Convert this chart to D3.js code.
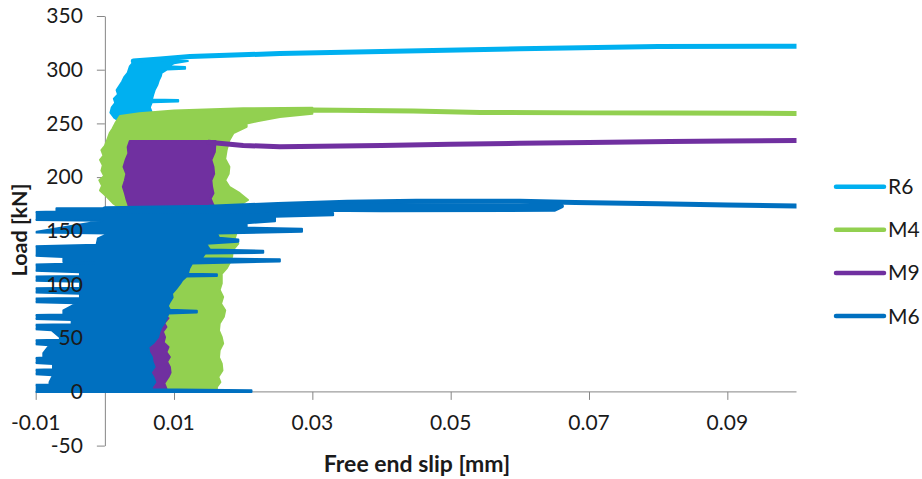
<!DOCTYPE html>
<html>
<head>
<meta charset="utf-8">
<script src="https://cdn.jsdelivr.net/npm/d3@7"></script>
<style>
  body { margin: 0; background: #fff; }
  svg { display: block; }
  text { font-family: Lato, "Open Sans", sans-serif; fill: #1a1a1a; }
</style>
</head>
<body>
<svg id="chart" width="922" height="479"></svg>
<script>
// Axis ticks
const xTicks = [-0.01, 0.01, 0.03, 0.05, 0.07, 0.09];
const yTicks = [-50, 0, 50, 100, 150, 200, 250, 300, 350];

// Series, in drawing order
const seriesNames = ["R6", "M4", "M9", "M6"];
const seriesColors = ["#00B0F0", "#92D050", "#7030A0", "#0070C0"];

// R6: cyclic band (left edge top-down, right edge bottom-up) and final loading branch
const r6LeftLoad  = [309, 306, 303, 297, 293, 289, 285, 281, 277, 273, 269, 265, 260, 255, 251.5];
const r6LeftSlip  = [0.0041, 0.0040, 0.0036, 0.0033, 0.0028, 0.0025, 0.0021, 0.0017, 0.0019, 0.0013, 0.0015, 0.0010, 0.0008, 0.0014, 0.0022];
const r6RightLoad = [251.5, 255, 260, 265, 269.8, 270.3, 271.8, 272.3, 277, 281, 286, 290, 294, 297, 300.3, 300.8, 302.6, 303.1, 306, 308, 309.5];
const r6RightSlip = [0.0030, 0.0065, 0.0068, 0.0065, 0.0068, 0.0106, 0.0106, 0.0068, 0.0070, 0.0072, 0.0076, 0.0078, 0.0081, 0.0082, 0.0090, 0.0116, 0.0116, 0.0090, 0.0100, 0.0120, 0.0080];
const r6TailSlip  = [0.0041, 0.008, 0.0123, 0.0253, 0.04, 0.06, 0.08, 0.1];
const r6TailLoad  = [308, 310, 312.3, 315, 317, 319.5, 321.5, 321.8];

// M4
const m4LeftLoad  = [264.5, 264, 262, 259.5, 257, 250, 245, 241, 234, 229, 225, 220, 216, 211, 206, 201, 197, 192, 187.6, 181.6, 175.6, 170, 160, 147, 140, 100, 50, 1.5];
const m4LeftSlip  = [0.030, 0.020, 0.010, 0.005, 0.0022, 0.0015, 0.0011, 0.0007, 0.0003, 0.0000, -0.0005, -0.0002, -0.0007, -0.0003, -0.0005, -0.0001, -0.0008, -0.0004, -0.0007, 0.0003, 0.0012, 0.0025, 0.002, 0.0007, 0.002, 0.004, 0.006, 0.007];
const m4RightLoad = [1.5, 4.6, 9, 13.9, 20, 26.4, 32, 38.8, 45, 51, 57, 63.6, 70, 76, 82, 88.5, 95, 101, 110, 115, 119.5, 126, 132, 138, 143, 147.5, 160, 174, 178.7, 185, 191, 197, 203, 209.6, 217, 225, 234.3, 241, 246.8, 250, 252, 256, 259];
const m4RightSlip = [0.0162, 0.0162, 0.0167, 0.0164, 0.0170, 0.0169, 0.0165, 0.0166, 0.0171, 0.0169, 0.0165, 0.0166, 0.0172, 0.0174, 0.0168, 0.0171, 0.0166, 0.0169, 0.0169, 0.0176, 0.0180, 0.0184, 0.0185, 0.0193, 0.0188, 0.0190, 0.0190, 0.0195, 0.0207, 0.0195, 0.0180, 0.0174, 0.0179, 0.0180, 0.0174, 0.0176, 0.0180, 0.0186, 0.0205, 0.0205, 0.0220, 0.0253, 0.0300];
const m4TailSlip  = [0.025, 0.030, 0.0446, 0.0543, 0.07, 0.0817, 0.1];
const m4TailLoad  = [262, 262.5, 261.5, 260.2, 259.8, 259.6, 259.3];

// M9
const m9LeftLoad  = [233.5, 228, 222, 216, 209.5, 203, 197, 191, 185, 180, 174, 170, 100, 3];
const m9LeftSlip  = [0.0036, 0.0033, 0.0034, 0.0030, 0.0027, 0.0031, 0.0029, 0.0026, 0.0029, 0.0031, 0.0034, 0.0035, 0.002, 0.004];
const m9RightLoad = [3, 8, 13.9, 18, 23.2, 28, 32.5, 37, 41.8, 46, 51, 56, 60.5, 64, 68.6, 72, 80, 100, 140, 160, 170, 174, 180, 185, 191, 197, 203, 209.5, 216, 223.5, 233.5];
const m9RightSlip = [0.0089, 0.0086, 0.0092, 0.0095, 0.0094, 0.0090, 0.0094, 0.0089, 0.0092, 0.0085, 0.0087, 0.0084, 0.0089, 0.0086, 0.0092, 0.0080, 0.0060, 0.0060, 0.0080, 0.0100, 0.0157, 0.0157, 0.0153, 0.0157, 0.0155, 0.0154, 0.0158, 0.0157, 0.0154, 0.0159, 0.0160];
const m9TailSlip  = [0.0150, 0.0200, 0.0253, 0.040, 0.050, 0.060, 0.070, 0.0817, 0.090, 0.1];
const m9TailLoad  = [232.5, 229.5, 228.2, 229.5, 230.5, 231.5, 232.3, 233.2, 233.6, 234];

// M6
const m6LeftLoad  = [171, 168, 167.5, 160, 159.3, 148.5, 147.5, 143, 137, 135.5, 127, 125.5, 121, 120, 118.5, 113, 111.5, 108, 107.5, 103.5, 102.5, 97, 96.5, 92.5, 91.5, 87.5, 87, 83.5, 82.5, 76, 72, 71.5, 68, 67, 63, 62.5, 58.5, 57.5, 51, 48.5, 48, 44.5, 43.5, 36, 32, 31.5, 27, 26, 21, 20.5, 16.5, 15.5, 9, 7, 6.5, 0];
const m6LeftSlip  = [-0.007, -0.007, -0.0105, -0.0105, -0.0003, -0.0105, 0.0006, -0.0010, -0.0012, -0.0105, -0.0105, -0.006, -0.006, -0.0012, -0.0105, -0.0105, -0.0036, -0.0036, -0.0105, -0.0105, -0.0036, -0.0036, -0.0105, -0.0105, -0.0036, -0.0036, -0.0105, -0.0105, -0.0041, -0.006, -0.006, -0.0105, -0.0105, -0.0048, -0.0048, -0.0105, -0.0105, -0.0077, -0.0065, -0.0065, -0.0105, -0.0105, -0.008, -0.0089, -0.0089, -0.0105, -0.0105, -0.0075, -0.0075, -0.0105, -0.0105, -0.0075, -0.008, -0.008, -0.0105, -0.0105];
const m6RightLoad = [0, 1.5, 2.5, 4.6, 9, 13.9, 18, 23.2, 28, 32.5, 37, 41.8, 46, 51, 56, 60.5, 64, 68.3, 73, 74, 75.5, 76.5, 80, 83.8, 88, 91.6, 96, 101, 104, 107.5, 108, 109.5, 110, 115, 119.5, 121.5, 123.5, 124.5, 128.9, 129.5, 131.5, 132.5, 135, 138, 139.8, 141.8, 143.5, 147.6, 149, 152, 153, 157, 159, 163, 164.5, 166.5, 168, 171];
const m6RightSlip = [0.0212, 0.0212, 0.0068, 0.0068, 0.0073, 0.0070, 0.0066, 0.0072, 0.0069, 0.0068, 0.0064, 0.0063, 0.0071, 0.0077, 0.0079, 0.0082, 0.0086, 0.0089, 0.0092, 0.0133, 0.0133, 0.0094, 0.0091, 0.0094, 0.0098, 0.0097, 0.0103, 0.0109, 0.0112, 0.0118, 0.0162, 0.0162, 0.0120, 0.0122, 0.0126, 0.0253, 0.0253, 0.0140, 0.0145, 0.0229, 0.0229, 0.0152, 0.0149, 0.0147, 0.0193, 0.0193, 0.0165, 0.0162, 0.0285, 0.0285, 0.0205, 0.0205, 0.0246, 0.0246, 0.0330, 0.0330, 0.0200, 0.0040];
const m6TailSlip  = [0.0, 0.015, 0.025, 0.035, 0.045, 0.060, 0.068, 0.080, 0.090, 0.1];
const m6TailLoad  = [170.5, 172, 174.5, 176.5, 177.5, 177.5, 176.3, 175.3, 174, 173];
const m6LoopSlip  = [0.0, 0.020, 0.030, 0.040, 0.065, 0.066, 0.040, 0.030, 0.022, 0.015];
const m6LoopLoad  = [168, 168.5, 170, 169.5, 170, 173, 173.5, 172.5, 171.5, 170.5];

const zip = (a, b) => a.map((v, i) => [v, b[i]]);

const series = [
  { band: zip(r6LeftSlip, r6LeftLoad).concat(zip(r6RightSlip, r6RightLoad)),
    tails: [zip(r6TailSlip, r6TailLoad)] },
  { band: zip(m4LeftSlip, m4LeftLoad).concat(zip(m4RightSlip, m4RightLoad)),
    tails: [zip(m4TailSlip, m4TailLoad)] },
  { band: zip(m9LeftSlip, m9LeftLoad).concat(zip(m9RightSlip, m9RightLoad)),
    tails: [zip(m9TailSlip, m9TailLoad)] },
  { band: zip(m6LeftSlip, m6LeftLoad).concat(zip(m6RightSlip, m6RightLoad)),
    tails: [zip(m6TailSlip, m6TailLoad), zip(m6LoopSlip, m6LoopLoad)] }
];

const svg = d3.select("#chart");
const x = d3.scaleLinear().domain([-0.01, 0.1]).range([35.7, 796.5]);
const y = d3.scaleLinear().domain([-50, 350]).range([445.6, 16]);

const axisColor = "#868686";
const tickFont = 21;

// Plot clip
svg.append("defs").append("clipPath").attr("id", "plot")
  .append("rect")
  .attr("x", x(-0.01)).attr("y", y(350))
  .attr("width", x(0.1) - x(-0.01)).attr("height", y(-50) - y(350));

// X axis along load = 0
const xAxis = svg.append("g")
  .attr("transform", `translate(0,${y(0)})`)
  .call(d3.axisBottom(x).tickValues(xTicks).tickSize(8).tickSizeOuter(0).tickFormat(""));
xAxis.select(".domain").attr("stroke", axisColor).attr("d", `M${x(-0.01)},0H${x(0.1)}`);
xAxis.selectAll(".tick line").attr("stroke", axisColor);

// Y axis along slip = 0
const yAxis = svg.append("g")
  .attr("transform", `translate(${x(0)},0)`)
  .call(d3.axisLeft(y).tickValues(yTicks).tickSize(8).tickSizeOuter(0).tickFormat(""));
yAxis.select(".domain").attr("stroke", axisColor);
yAxis.selectAll(".tick line").attr("stroke", axisColor);

// Data
const line = d3.line().x(d => x(d[0])).y(d => y(d[1]));
const plot = svg.append("g").attr("clip-path", "url(#plot)");

series.forEach((s, i) => {
  const g = plot.append("g");
  g.append("path")
    .attr("d", line(s.band) + "Z")
    .attr("fill", seriesColors[i])
    .attr("stroke", seriesColors[i])
    .attr("stroke-width", 2)
    .attr("stroke-linejoin", "round");
  s.tails.forEach(t => {
    g.append("path")
      .attr("d", line(t))
      .attr("fill", "none")
      .attr("stroke", seriesColors[i])
      .attr("stroke-width", 5)
      .attr("stroke-linejoin", "round")
      .attr("stroke-linecap", "round");
  });
});

// Tick labels, drawn over the data
svg.append("g").selectAll("text").data(xTicks).join("text")
  .attr("x", d => x(d)).attr("y", 430)
  .attr("text-anchor", "middle")
  .style("font-size", tickFont + "px")
  .text(d => String(d));

svg.append("g").selectAll("text").data(yTicks).join("text")
  .attr("x", x(0) - 22).attr("y", d => y(d))
  .attr("dy", "0.34em")
  .attr("text-anchor", "end")
  .style("font-size", tickFont + "px")
  .text(d => String(d));

// Axis titles
svg.append("text")
  .attr("x", 417).attr("y", 472)
  .attr("text-anchor", "middle")
  .style("font-size", "23px").style("font-weight", "bold")
  .text("Free end slip  [mm]");

svg.append("text")
  .attr("transform", "translate(27,230) rotate(-90)")
  .attr("text-anchor", "middle")
  .style("font-size", "21.5px").style("font-weight", "bold")
  .text("Load [kN]");

// Legend
const legend = svg.append("g").selectAll("g").data(seriesNames).join("g")
  .attr("transform", (d, i) => `translate(0,${186.7 + i * 43.1})`);
legend.append("line")
  .attr("x1", 836).attr("x2", 884)
  .attr("stroke", (d, i) => seriesColors[i])
  .attr("stroke-width", 4.5)
  .attr("stroke-linecap", "round");
legend.append("text")
  .attr("x", 888).attr("y", 7.5)
  .style("font-size", tickFont + "px")
  .text(d => d);
</script>
</body>
</html>
